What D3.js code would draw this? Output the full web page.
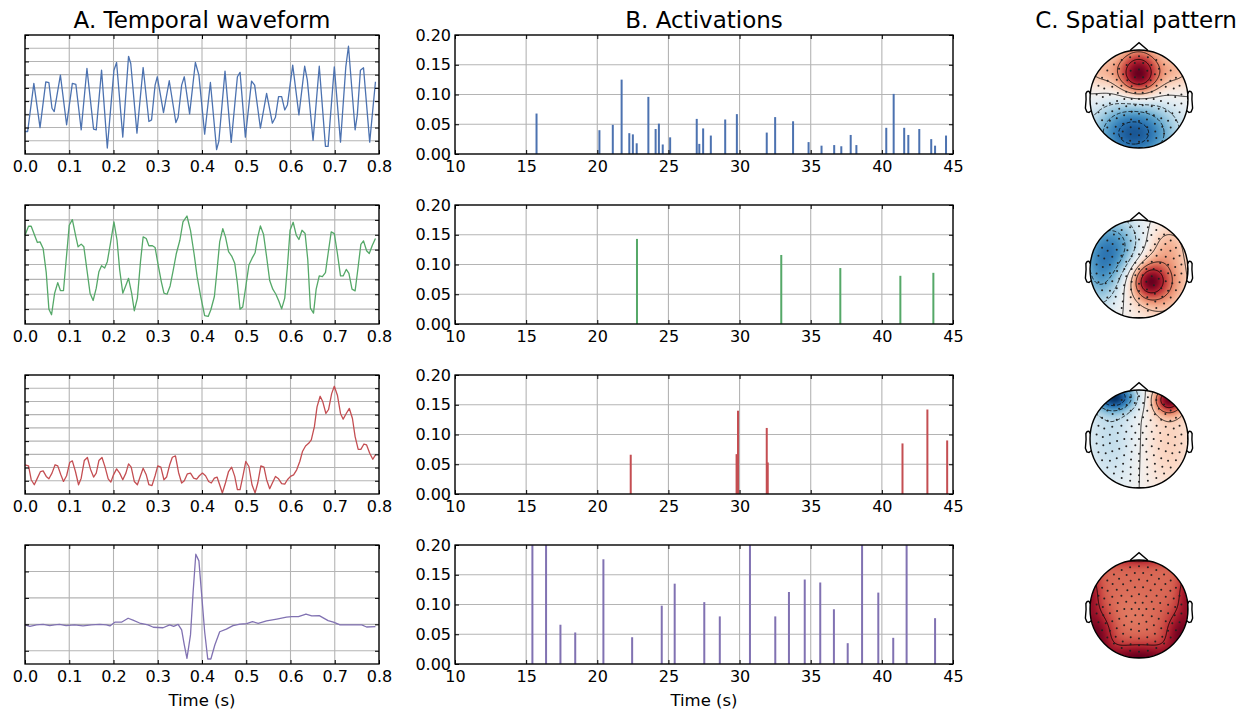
<!DOCTYPE html>
<html>
<head>
<meta charset="utf-8">
<script src="https://cdn.jsdelivr.net/npm/d3@7"></script>
<style>
  body { margin: 0; background: #fff; }
  text { font-family: 'DejaVu Sans', sans-serif; }
</style>
</head>
<body>
<svg id="chart" width="1252" height="717"></svg>
<script>
// ---- data ----
const waveTicksX = [0, 0.1, 0.2, 0.3, 0.4, 0.5, 0.6, 0.7, 0.8]
const actTicksX = [10, 15, 20, 25, 30, 35, 40, 45]
const actTicksY = [0, 0.05, 0.1, 0.15, 0.2]

// temporal waveforms [time (s), amplitude (a.u.)]
const wave1 = [[0,1.70],[0.006,1.70],[0.020,5.34],[0.034,2.00],[0.047,5.46],[0.054,5.39],[0.061,3.46],[0.066,3.21],[0.080,5.96],[0.094,2.21],[0.107,5.34],[0.115,5.26],[0.127,1.83],[0.140,6.47],[0.155,1.88],[0.161,1.83],[0.173,6.34],[0.186,0.45],[0.201,6.34],[0.207,6.92],[0.221,1.28],[0.234,7.39],[0.239,6.84],[0.253,1.58],[0.267,6.54],[0.280,2.46],[0.286,2.58],[0.294,5.21],[0.299,5.84],[0.313,3.13],[0.326,5.54],[0.341,2.38],[0.346,2.78],[0.354,5.21],[0.360,5.84],[0.372,3.03],[0.385,6.92],[0.393,5.96],[0.406,1.50],[0.419,5.41],[0.433,0.33],[0.438,0.95],[0.452,6.27],[0.466,0.88],[0.480,5.84],[0.486,6.17],[0.498,1.28],[0.512,5.51],[0.519,5.21],[0.532,1.95],[0.546,4.59],[0.559,2.33],[0.566,2.78],[0.573,4.34],[0.580,4.34],[0.587,3.33],[0.593,3.71],[0.605,6.72],[0.619,2.96],[0.632,6.64],[0.638,5.59],[0.651,1.03],[0.665,6.64],[0.679,0.58],[0.685,0.58],[0.699,6.59],[0.713,0.90],[0.725,6.59],[0.731,8.15],[0.746,1.83],[0.751,2.96],[0.758,6.34],[0.765,6.52],[0.779,0.90],[0.792,5.46]]
const wave2 = [[0,5.97],[0.008,6.57],[0.014,6.57],[0.023,5.86],[0.028,5.48],[0.034,5.52],[0.041,5.08],[0.048,3.45],[0.054,1.00],[0.060,0.62],[0.067,2.07],[0.074,2.78],[0.080,2.25],[0.087,2.25],[0.093,4.30],[0.100,6.64],[0.107,7.02],[0.115,5.86],[0.120,5.19],[0.127,5.37],[0.133,5.19],[0.140,3.63],[0.147,2.07],[0.154,1.58],[0.161,2.41],[0.167,3.52],[0.173,3.92],[0.180,3.76],[0.186,4.19],[0.193,5.41],[0.201,6.86],[0.208,5.63],[0.214,3.63],[0.221,2.07],[0.227,2.52],[0.234,3.07],[0.241,2.07],[0.247,0.89],[0.254,1.74],[0.261,4.19],[0.267,5.86],[0.274,5.75],[0.280,5.26],[0.288,5.26],[0.294,5.14],[0.301,3.96],[0.308,2.85],[0.314,2.07],[0.321,2.00],[0.328,2.56],[0.335,3.63],[0.342,4.74],[0.350,5.63],[0.357,6.86],[0.366,7.26],[0.374,6.30],[0.382,4.74],[0.389,3.18],[0.397,1.85],[0.406,0.56],[0.414,0.51],[0.420,0.96],[0.428,1.85],[0.434,3.63],[0.440,5.52],[0.447,6.41],[0.453,5.86],[0.460,4.86],[0.467,4.57],[0.474,4.08],[0.480,2.74],[0.486,1.00],[0.492,1.14],[0.499,2.52],[0.506,3.96],[0.513,4.41],[0.520,4.79],[0.526,5.86],[0.532,6.59],[0.539,6.04],[0.546,4.52],[0.553,2.92],[0.560,2.34],[0.567,2.00],[0.574,1.51],[0.580,1.02],[0.587,1.74],[0.593,3.85],[0.599,6.30],[0.606,6.84],[0.613,5.97],[0.619,5.68],[0.626,6.30],[0.633,6.08],[0.639,4.34],[0.645,1.07],[0.652,0.73],[0.658,2.34],[0.665,3.23],[0.672,3.18],[0.679,3.45],[0.685,4.74],[0.692,6.19],[0.699,6.08],[0.706,4.74],[0.713,3.23],[0.719,3.23],[0.726,3.67],[0.732,3.41],[0.739,2.34],[0.746,2.23],[0.752,3.63],[0.759,5.35],[0.765,5.59],[0.772,4.92],[0.778,4.74],[0.785,5.30],[0.792,5.75]]
const wave3 = [[0,2.21],[0.008,2.13],[0.014,1.08],[0.021,0.70],[0.028,1.20],[0.035,1.70],[0.041,1.75],[0.048,1.33],[0.054,1.15],[0.061,1.58],[0.068,2.21],[0.074,2.13],[0.081,1.45],[0.087,0.95],[0.094,1.38],[0.101,2.38],[0.107,2.51],[0.114,1.70],[0.121,0.70],[0.127,1.20],[0.134,2.53],[0.141,2.76],[0.148,1.88],[0.155,1.28],[0.161,1.58],[0.167,2.53],[0.174,2.76],[0.181,2.03],[0.188,1.15],[0.194,0.90],[0.200,1.45],[0.207,1.90],[0.214,1.58],[0.221,1.08],[0.228,1.58],[0.234,2.28],[0.240,2.03],[0.247,0.95],[0.254,0.70],[0.261,1.38],[0.267,1.95],[0.274,1.45],[0.280,0.70],[0.287,0.63],[0.294,1.38],[0.300,2.13],[0.307,2.03],[0.314,1.08],[0.320,1.28],[0.327,2.21],[0.333,2.78],[0.340,2.88],[0.347,1.63],[0.354,0.83],[0.360,1.00],[0.367,1.53],[0.374,1.58],[0.381,1.20],[0.388,1.13],[0.394,1.38],[0.401,1.58],[0.408,1.38],[0.415,0.95],[0.421,0.83],[0.428,1.20],[0.434,1.28],[0.441,0.58],[0.446,0.08],[0.453,0.83],[0.460,1.70],[0.467,2.03],[0.474,1.33],[0.480,0.33],[0.486,0.33],[0.493,1.45],[0.499,2.46],[0.506,2.08],[0.513,0.70],[0.520,0.08],[0.526,0.83],[0.533,2.13],[0.540,2.03],[0.546,1.08],[0.553,0.40],[0.559,0.83],[0.566,1.33],[0.573,1.15],[0.580,0.78],[0.587,0.75],[0.593,1.08],[0.600,1.33],[0.607,1.45],[0.614,1.83],[0.621,2.46],[0.627,3.21],[0.634,3.63],[0.641,3.83],[0.647,4.09],[0.654,5.09],[0.660,6.59],[0.667,7.39],[0.673,6.97],[0.680,6.09],[0.686,6.39],[0.693,7.59],[0.699,8.15],[0.706,7.47],[0.713,6.09],[0.719,5.66],[0.726,6.09],[0.733,6.47],[0.740,5.71],[0.746,4.34],[0.753,3.38],[0.759,3.38],[0.766,3.78],[0.772,3.71],[0.779,3.08],[0.786,2.63],[0.792,2.96]]
const wave4 = [[0,1.48],[0.011,1.42],[0.026,1.48],[0.041,1.50],[0.056,1.45],[0.067,1.48],[0.078,1.50],[0.093,1.45],[0.112,1.48],[0.131,1.44],[0.150,1.48],[0.169,1.50],[0.184,1.48],[0.192,1.44],[0.203,1.58],[0.218,1.58],[0.233,1.73],[0.244,1.66],[0.259,1.55],[0.278,1.48],[0.290,1.39],[0.312,1.37],[0.327,1.48],[0.336,1.42],[0.346,1.50],[0.354,1.29],[0.360,0.72],[0.366,0.21],[0.374,1.10],[0.380,2.74],[0.386,4.15],[0.393,3.90],[0.399,2.67],[0.406,1.22],[0.413,0.19],[0.420,0.19],[0.429,0.72],[0.440,1.22],[0.455,1.32],[0.470,1.45],[0.486,1.51],[0.501,1.53],[0.514,1.60],[0.527,1.54],[0.546,1.63],[0.569,1.70],[0.591,1.77],[0.603,1.79],[0.618,1.79],[0.635,1.89],[0.648,1.82],[0.665,1.83],[0.685,1.64],[0.697,1.58],[0.712,1.48],[0.742,1.48],[0.761,1.48],[0.772,1.40],[0.792,1.41]]
const waveYDomains = [[0, 9], [0, 8], [0, 9], [0, 4.5]]
const waveTicksY = [
  [1, 2, 3, 4, 5, 6, 7, 8],
  [1, 2, 3, 4, 5, 6, 7],
  [1, 2, 3, 4, 5, 6, 7, 8],
  [0.5, 1.5, 2.5, 3.5]
]

// activations [time (s), amplitude]
const act1 = [[15.73,0.068],[20.15,0.040],[21.09,0.049],[21.71,0.125],[22.25,0.035],[22.50,0.033],[22.77,0.018],[23.59,0.096],[24.10,0.042],[24.33,0.051],[24.60,0.016],[25.12,0.028],[26.99,0.059],[27.17,0.017],[27.44,0.043],[27.98,0.031],[28.99,0.058],[29.81,0.067],[31.91,0.036],[32.50,0.062],[33.76,0.055],[34.85,0.020],[35.76,0.014],[36.65,0.015],[37.15,0.013],[37.81,0.032],[38.21,0.015],[40.31,0.044],[40.83,0.101],[41.57,0.044],[41.86,0.032],[42.63,0.042],[43.47,0.025],[43.74,0.014],[44.51,0.031]]
const act2 = [[22.79,0.143],[32.93,0.116],[37.08,0.094],[41.30,0.081],[43.62,0.086]]
const act3 = [[22.35,0.066],[29.79,0.067],[29.89,0.140],[31.91,0.111],[31.98,0.053],[41.45,0.085],[43.20,0.142],[44.59,0.090]]
const act4 = [[15.44,0.25],[16.40,0.25],[17.41,0.066],[18.45,0.053],[20.43,0.176],[22.45,0.045],[24.53,0.098],[25.44,0.135],[27.52,0.104],[28.61,0.080],[30.73,0.25],[32.51,0.080],[33.47,0.121],[34.58,0.142],[35.67,0.137],[36.63,0.092],[37.60,0.035],[38.61,0.25],[39.75,0.120],[40.80,0.044],[41.74,0.25],[43.74,0.077]]

// spatial patterns: blobs in head coordinates (unit radius, y up)
const topo1 = [
  {x: 0, y: 0.7, sx: 0.32, sy: 0.3, a: 0.7},
  {x: 0, y: 0.35, sx: 0.3, sy: 0.25, a: 0.6},
  {x: -0.1, y: -0.7, sx: 0.6, sy: 0.45, a: -0.9},
  {x: -0.8, y: 0.6, sx: 0.3, sy: 0.3, a: 0.3},
  {x: 0.8, y: 0.6, sx: 0.3, sy: 0.3, a: 0.3}
]
const topo2 = [
  {x: -0.55, y: 0.45, sx: 0.45, sy: 0.45, a: -0.65},
  {x: -0.8, y: -0.25, sx: 0.3, sy: 0.45, a: -0.4},
  {x: 0.2, y: -0.25, sx: 0.25, sy: 0.26, a: 0.7},
  {x: 0.5, y: -0.25, sx: 0.45, sy: 0.55, a: 0.45},
  {x: 0.6, y: 0.55, sx: 0.3, sy: 0.3, a: 0.2}
]
const topo3 = [
  {x: -0.5, y: 0.85, sx: 0.3, sy: 0.2, a: -1.0},
  {x: -0.55, y: 0.0, sx: 0.45, sy: 0.8, a: -0.28},
  {x: 0.62, y: 0.8, sx: 0.22, sy: 0.2, a: 1.0},
  {x: 0.6, y: -0.1, sx: 0.45, sy: 0.8, a: 0.26}
]
const topo4 = [
  {x: 0, y: -1.0, sx: 0.55, sy: 0.2, a: 0.45},
  {x: -0.85, y: -0.55, sx: 0.22, sy: 0.35, a: 0.4},
  {x: 0.85, y: -0.55, sx: 0.22, sy: 0.35, a: 0.4},
  {x: -1.0, y: 0.3, sx: 0.15, sy: 0.4, a: 0.3},
  {x: 1.0, y: 0.3, sx: 0.15, sy: 0.4, a: 0.3},
  {x: 0, y: 1.05, sx: 0.6, sy: 0.12, a: 0.25},
  {x: -0.2, y: -0.1, sx: 0.3, sy: 0.3, a: -0.05}
]
const topoOffsets = [0, 0, 0, 0.6]
const contourLevels = [-0.75, -0.5, -0.25, 0, 0.25, 0.5, 0.75]
const sensorRadii = [0, 0.15, 0.3, 0.45, 0.6, 0.74, 0.87]
const sensorCounts = [1, 6, 12, 17, 22, 27, 30]

// ---- layout ----
const colors = ['#4c72b0', '#55a868', '#c44e52', '#8172b2']
const waves = [wave1, wave2, wave3, wave4]
const acts = [act1, act2, act3, act4]
const topos = [topo1, topo2, topo3, topo4]
const rowTops = [35, 205, 375, 545]
const rowH = 119
const panelA = {left: 25, right: 379}
const panelB = {left: 455, right: 953}
const headX = 1139
const headR = 49
const GRID = '#b4b4b4'
const TICK = 4

const svg = d3.select('#chart')

svg.append('text').attr('x', 202).attr('y', 28).attr('text-anchor', 'middle')
  .attr('font-size', 23).text('A. Temporal waveform')
svg.append('text').attr('x', 704).attr('y', 28).attr('text-anchor', 'middle')
  .attr('font-size', 23).text('B. Activations')
svg.append('text').attr('x', 1136).attr('y', 28).attr('text-anchor', 'middle')
  .attr('font-size', 23).text('C. Spatial pattern')

function styleAxis (sel) {
  sel.select('.domain').remove()
  sel.attr('font-family', null).attr('font-size', 16)
  sel.selectAll('.tick line').attr('stroke', '#000').attr('stroke-width', 1)
  sel.selectAll('.tick text').attr('fill', '#000')
}

function frameAxes (g, x, y, xTicks, yTicks, xFmt, yFmt) {
  const [x0, x1] = x.range()
  const [y1, y0] = y.range()
  g.append('g').selectAll('line').data(xTicks).join('line')
    .attr('x1', d => x(d)).attr('x2', d => x(d)).attr('y1', y0).attr('y2', y1)
    .attr('stroke', GRID).attr('stroke-width', 1.1)
  g.append('g').selectAll('line').data(yTicks).join('line')
    .attr('y1', d => y(d)).attr('y2', d => y(d)).attr('x1', x0).attr('x2', x1)
    .attr('stroke', GRID).attr('stroke-width', 1.1)

  return function () {
    g.append('g').attr('transform', `translate(0,${y1})`)
      .call(d3.axisBottom(x).tickValues(xTicks).tickSizeInner(-TICK).tickSizeOuter(0).tickPadding(7).tickFormat(xFmt))
      .call(styleAxis)
    g.append('g').attr('transform', `translate(0,${y0})`)
      .call(d3.axisTop(x).tickValues(xTicks).tickSizeInner(-TICK).tickSizeOuter(0).tickFormat(''))
      .call(styleAxis)
    g.append('g').attr('transform', `translate(${x0},0)`)
      .call(d3.axisLeft(y).tickValues(yTicks).tickSizeInner(-TICK).tickSizeOuter(0).tickPadding(4).tickFormat(yFmt))
      .call(styleAxis)
    g.append('g').attr('transform', `translate(${x1},0)`)
      .call(d3.axisRight(y).tickValues(yTicks).tickSizeInner(-TICK).tickSizeOuter(0).tickFormat(''))
      .call(styleAxis)
    g.append('rect').attr('x', x0).attr('y', y0).attr('width', x1 - x0).attr('height', y1 - y0)
      .attr('fill', 'none').attr('stroke', '#000').attr('stroke-width', 1.3)
  }
}

// ---- A. temporal waveforms ----
waves.forEach((data, i) => {
  const top = rowTops[i]
  const g = svg.append('g')
  const x = d3.scaleLinear().domain([0, 0.8]).range([panelA.left, panelA.right])
  const y = d3.scaleLinear().domain(waveYDomains[i]).range([top + rowH, top])
  const yt = waveYDomains[i][1]
  const finish = frameAxes(g, x, y, waveTicksX, waveTicksY[i].concat([yt]), d3.format('.1f'), '')
  g.append('path').datum(data)
    .attr('d', d3.line().x(d => x(d[0])).y(d => y(d[1])))
    .attr('fill', 'none').attr('stroke', colors[i]).attr('stroke-width', 1.3)
    .attr('stroke-linejoin', 'round')
  finish()
})

// ---- B. activations ----
acts.forEach((data, i) => {
  const top = rowTops[i]
  const g = svg.append('g')
  const x = d3.scaleLinear().domain([10, 45]).range([panelB.left, panelB.right])
  const y = d3.scaleLinear().domain([0, 0.2]).range([top + rowH, top])
  const finish = frameAxes(g, x, y, actTicksX, actTicksY, d3.format('d'), d3.format('.2f'))
  svg.append('clipPath').attr('id', 'clipB' + i).append('rect')
    .attr('x', panelB.left).attr('y', top).attr('width', panelB.right - panelB.left).attr('height', rowH)
  g.append('g').attr('clip-path', `url(#clipB${i})`)
    .selectAll('rect').data(data).join('rect')
    .attr('x', d => x(d[0]) - 1).attr('width', 2)
    .attr('y', d => y(d[1])).attr('height', d => y(0) - y(d[1]))
    .attr('fill', colors[i])
  finish()
})

svg.append('text').attr('x', 202).attr('y', 706).attr('text-anchor', 'middle')
  .attr('font-size', 16.5).text('Time (s)')
svg.append('text').attr('x', 704).attr('y', 706).attr('text-anchor', 'middle')
  .attr('font-size', 16.5).text('Time (s)')

// ---- C. spatial patterns ----
function field (blobs, offset, hx, hy) {
  let v = offset
  blobs.forEach(b => {
    const dx = (hx - b.x) / b.sx
    const dy = (hy - b.y) / b.sy
    v += b.a * Math.exp(-0.5 * (dx * dx + dy * dy))
  })
  return v
}

const sensors = []
sensorRadii.forEach((r, k) => {
  const n = sensorCounts[k]
  for (let j = 0; j < n; j++) {
    const ang = (j + 0.5 * (k % 2)) / n * 2 * Math.PI
    sensors.push([r * Math.sin(ang), r * Math.cos(ang)])
  }
})

const earX = [0.497, 0.510, 0.518, 0.5299, 0.5419, 0.54, 0.547, 0.532, 0.510, 0.489]
const earY = [0.0555, 0.0775, 0.0783, 0.0746, 0.0555, -0.0055, -0.0932, -0.1313, -0.1384, -0.1199]

topos.forEach((blobs, i) => {
  const cx = headX
  const cy = rowTops[i] + 64
  const R = headR
  const ext = 1.0
  const n = 120
  const step = 2 * ext / n
  const vals = new Float64Array(n * n)
  let vmax = 0
  for (let j = 0; j < n; j++) {
    for (let k = 0; k < n; k++) {
      const hx = -ext + (k + 0.5) * step
      const hy = ext - (j + 0.5) * step
      const v = field(blobs, topoOffsets[i], hx, hy)
      vals[j * n + k] = v
      if (hx * hx + hy * hy <= 1) vmax = Math.max(vmax, Math.abs(v))
    }
  }
  const norm = Array.from(vals, v => v / vmax)
  const color = t => d3.interpolateRdBu(0.5 - t / 2)

  const canvas = document.createElement('canvas')
  canvas.width = n
  canvas.height = n
  const ctx = canvas.getContext('2d')
  const img = ctx.createImageData(n, n)
  norm.forEach((v, idx) => {
    const c = d3.rgb(color(Math.max(-1, Math.min(1, v))))
    img.data[idx * 4] = c.r
    img.data[idx * 4 + 1] = c.g
    img.data[idx * 4 + 2] = c.b
    img.data[idx * 4 + 3] = 255
  })
  ctx.putImageData(img, 0, 0)

  const g = svg.append('g')
  svg.append('clipPath').attr('id', 'clipHead' + i).append('circle')
    .attr('cx', cx).attr('cy', cy).attr('r', R)
  const inner = g.append('g').attr('clip-path', `url(#clipHead${i})`)
  inner.append('image')
    .attr('href', canvas.toDataURL())
    .attr('x', cx - ext * R).attr('y', cy - ext * R)
    .attr('width', 2 * ext * R).attr('height', 2 * ext * R)
    .attr('preserveAspectRatio', 'none')

  const contours = d3.contours().size([n, n]).thresholds(contourLevels)(norm)
  const proj = d3.geoPath(d3.geoIdentity().scale(step * R).translate([cx - ext * R - 0.5 * step * R, cy - ext * R - 0.5 * step * R]))
  inner.selectAll('path.c').data(contours).join('path')
    .attr('d', proj)
    .attr('fill', 'none').attr('stroke', '#000').attr('stroke-width', 0.8)
    .attr('stroke-dasharray', d => d.value < 0 ? '4,2' : null)

  g.selectAll('circle.s').data(sensors).join('circle')
    .attr('cx', d => cx + d[0] * R).attr('cy', d => cy - d[1] * R)
    .attr('r', 1).attr('fill', '#222')

  // head outline, nose, ears
  g.append('circle').attr('cx', cx).attr('cy', cy).attr('r', R)
    .attr('fill', 'none').attr('stroke', '#000').attr('stroke-width', 1.4)
  const line = d3.line().x(d => cx + d[0] * R).y(d => cy - d[1] * R)
  g.append('path').datum([[0.18, 0.995], [0, 1.15], [-0.18, 0.995]])
    .attr('d', line).attr('fill', 'none').attr('stroke', '#000').attr('stroke-width', 1.4)
  ;[1, -1].forEach(s => {
    g.append('path').datum(earX.map((ex, k) => [s * ex * 2, earY[k] * 2]))
      .attr('d', line).attr('fill', 'none').attr('stroke', '#000').attr('stroke-width', 1.4)
  })
})
</script>
</body>
</html>
